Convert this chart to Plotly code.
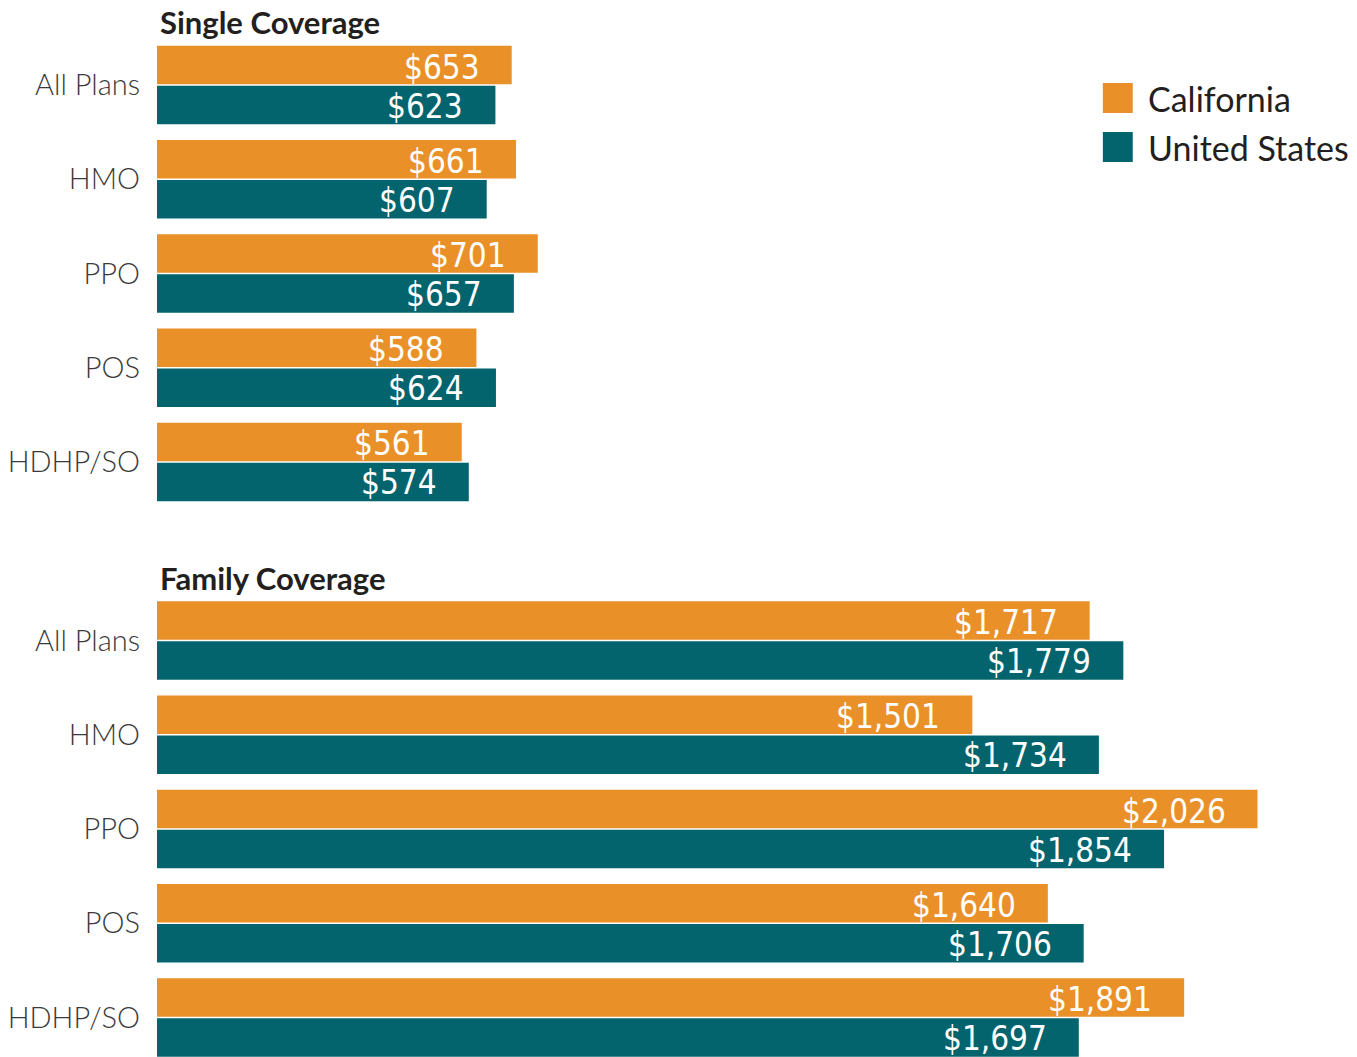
import plotly.graph_objects as go

categories = ["All Plans", "HMO", "PPO", "POS", "HDHP/SO"]
single_ca = [653, 661, 701, 588, 561]
single_us = [623, 607, 657, 624, 574]
family_ca = [1717, 1501, 2026, 1640, 1891]
family_us = [1779, 1734, 1854, 1706, 1697]
series_names = ["California", "United States"]
panel_titles = ["Single Coverage", "Family Coverage"]

ORANGE = "#EA9029"
TEAL = "#03646D"
OFF = 8  # default page body margin
W, H = 1357 - OFF, 1057 - OFF
L = 153 - OFF

LABEL_FONT = "Liberation Sans Narrow, DejaVu Sans Condensed, Roboto Condensed, Arial Narrow, sans-serif"
TEXT_FONT = "Lato, Open Sans, sans-serif"

fig = go.Figure()
panels = [(single_ca, single_us, "x", "y"), (family_ca, family_us, "x2", "y2")]
for ca, us, xa, ya in panels:
    fig.add_trace(go.Bar(y=categories, x=ca, orientation="h", name=series_names[0],
                         marker=dict(color=ORANGE, line=dict(width=0)), xaxis=xa, yaxis=ya,
                         showlegend=False, hoverinfo="x+y"))
    fig.add_trace(go.Bar(y=categories, x=us, orientation="h", name=series_names[1],
                         marker=dict(color=TEAL, line=dict(width=0)), xaxis=xa, yaxis=ya,
                         showlegend=False, hoverinfo="x+y"))

annotations = []
for ca, us, xa, ya in panels:
    for vals, ysh in ((ca, 18), (us, -21)):
        for c, v in zip(categories, vals):
            annotations.append(dict(x=v, y=c, xref=xa, yref=ya, text=f"${v:,}",
                                    showarrow=False, xanchor="right", yanchor="middle",
                                    xshift=-30, yshift=ysh,
                                    font=dict(family=LABEL_FONT, size=33, color="white")))

# helpers: convert target page pixels to paper coordinates
def px_x(p):
    return (p - OFF - L) / (W - L)

def px_y(p):
    return 1 - (p - OFF) / H

# panel titles
for title, ypix in zip(panel_titles, (22, 578)):
    annotations.append(dict(x=px_x(154), y=px_y(ypix), xref="paper", yref="paper", text=title,
                            showarrow=False, xanchor="left", yanchor="middle",
                            font=dict(family=TEXT_FONT, size=31, color="#231f20", weight=700)))

# manual legend
shapes = []
for name, col, cy in zip(series_names, (ORANGE, TEAL), (98, 147)):
    shapes.append(dict(type="rect", xref="paper", yref="paper",
                       x0=px_x(1102), x1=px_x(1132), y0=px_y(cy - 15), y1=px_y(cy + 15),
                       fillcolor=col, line=dict(width=0)))
    annotations.append(dict(x=px_x(1145), y=px_y(cy), xref="paper", yref="paper", text=name,
                            showarrow=False, xanchor="left", yanchor="middle",
                            font=dict(family=TEXT_FONT, size=34, color="#231f20")))

xmax = (W - L) / 0.545
tickfont = dict(family=TEXT_FONT, size=29, color="#3a3a3a", weight=300)

top_dom = [px_y(509.1), px_y(37.9)]
bot_dom = [0, px_y(593.4)]

fig.update_layout(
    width=W, height=H,
    margin=dict(l=L, r=0, t=0, b=0, pad=0),
    paper_bgcolor="white", plot_bgcolor="white",
    barmode="group", bargap=0.151, bargroupgap=0.04,
    showlegend=False,
    xaxis=dict(range=[0, xmax], visible=False, domain=[0, 1], anchor="y", fixedrange=True),
    xaxis2=dict(range=[0, xmax], visible=False, domain=[0, 1], anchor="y2", matches="x"),
    yaxis=dict(domain=top_dom, range=[4.5, -0.5], anchor="x",
               showgrid=False, zeroline=False, showline=False, ticks="",
               tickfont=tickfont, ticklabelstandoff=16),
    yaxis2=dict(domain=bot_dom, range=[4.419, -0.5], anchor="x2",
                showgrid=False, zeroline=False, showline=False, ticks="",
                tickfont=tickfont, ticklabelstandoff=16),
    annotations=annotations,
    shapes=shapes,
)

fig.write_html("out.html")
